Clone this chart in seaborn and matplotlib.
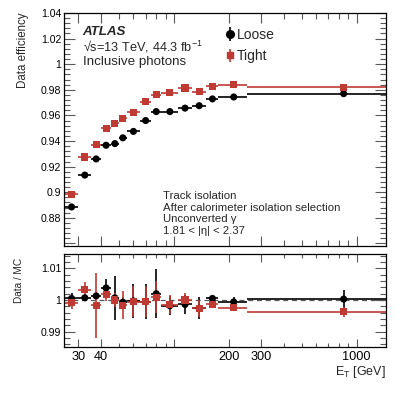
import numpy as np
import pandas as pd
import matplotlib
matplotlib.use("Agg")
import matplotlib.pyplot as plt
import seaborn as sns
from matplotlib.ticker import FixedLocator, FixedFormatter, MultipleLocator, FuncFormatter, NullFormatter

# ---------------- data ----------------
bin_lo = [25, 30, 35, 40, 45, 50, 55, 65, 75, 85, 105, 125, 150, 175, 250]
bin_hi = [30, 35, 40, 45, 50, 55, 65, 75, 85, 105, 125, 150, 175, 250, 1450]

eff_loose = [0.8885, 0.9134, 0.9260, 0.9367, 0.9380, 0.9425, 0.9475, 0.9560, 0.9630,
             0.9630, 0.9657, 0.9676, 0.9729, 0.9744, 0.9770]
eff_tight = [0.8985, 0.9275, 0.9370, 0.9498, 0.9540, 0.9577, 0.9624, 0.9707, 0.9763,
             0.9778, 0.9814, 0.9786, 0.9829, 0.9839, 0.9820]
eff_err_loose = [0.0008] * 15
eff_err_tight = [0.0008] * 15

ratio_loose = [1.0005, 1.0007, 1.0013, 1.0038, 1.0007, 0.9993, 0.9997, 0.9995, 1.0020,
               0.9982, 0.9986, 0.9974, 1.0005, 0.9994, 1.0003]
ratio_err_loose = [0.0016, 0.0008, 0.0010, 0.0027, 0.0070, 0.0015, 0.0053, 0.0055, 0.0077,
                   0.0030, 0.0030, 0.0035, 0.0005, 0.0015, 0.0030]
ratio_tight = [0.9991, 1.0032, 0.9983, 1.0018, 1.0000, 0.9984, 0.9995, 0.9995, 1.0009,
               0.9985, 1.0000, 0.9974, 0.9986, 0.9976, 0.9963]
ratio_err_tight = [0.0018, 0.0025, 0.0103, 0.0020, 0.0023, 0.0044, 0.0050, 0.0050, 0.0050,
                   0.0030, 0.0022, 0.0027, 0.0006, 0.0005, 0.0015]

x_tick_vals = [30, 40, 100, 200, 300, 1000]
x_tick_labels = ["30", "40", "", "200", "300", "1000"]
x_minor_vals = [50, 60, 70, 80, 90, 400, 500, 600, 700, 800, 900]

# ---------------- style ----------------
sns.set_style("ticks")
plt.rcParams["font.family"] = ["Liberation Sans", "DejaVu Sans"]
plt.rcParams["mathtext.fontset"] = "custom"
plt.rcParams["mathtext.rm"] = "Liberation Sans"
plt.rcParams["mathtext.it"] = "Liberation Sans:italic"
plt.rcParams["mathtext.bf"] = "Liberation Sans:bold"

BLACK = "#000000"
RED = "#bf3a33"

lo = np.array(bin_lo, float)
hi = np.array(bin_hi, float)
ctr = (lo + hi) / 2
xerr = np.vstack([ctr - lo, hi - ctr])

df = pd.DataFrame({
    "et": np.concatenate([ctr, ctr]),
    "eff": eff_loose + eff_tight,
    "ratio": ratio_loose + ratio_tight,
    "sel": ["Loose"] * 15 + ["Tight"] * 15,
})

fig = plt.figure(figsize=(4.07, 3.95), dpi=100)
W, H = 407, 395
ax1 = fig.add_axes([64 / W, 1 - 246 / H, 322 / W, 233 / H])
ax2 = fig.add_axes([64 / W, 1 - 347 / H, 322 / W, 93 / H])

pal = {"Loose": BLACK, "Tight": RED}
mk = {"Loose": "o", "Tight": "s"}

# top panel
ax1.errorbar(ctr, eff_loose, yerr=eff_err_loose, xerr=xerr, fmt="none", ecolor=BLACK, elinewidth=1.2, capsize=0)
ax1.errorbar(ctr, eff_tight, yerr=eff_err_tight, xerr=xerr, fmt="none", ecolor=RED, elinewidth=1.2, capsize=0)
sns.scatterplot(data=df, x="et", y="eff", hue="sel", style="sel", palette=pal, markers=mk,
                s=26, edgecolor="none", ax=ax1, legend=False, zorder=3)

# bottom panel
ax2.axhline(1.0, ls=(0, (4, 3)), color="0.35", lw=0.9, zorder=1)
ax2.errorbar(ctr, ratio_loose, yerr=ratio_err_loose, xerr=xerr, fmt="none", ecolor=BLACK, elinewidth=1.2, capsize=0)
ax2.errorbar(ctr, ratio_tight, yerr=ratio_err_tight, xerr=xerr, fmt="none", ecolor=RED, elinewidth=1.2, capsize=0)
sns.scatterplot(data=df, x="et", y="ratio", hue="sel", style="sel", palette=pal, markers=mk,
                s=26, edgecolor="none", ax=ax2, legend=False, zorder=3)

# legend proxies
h_l = ax1.errorbar([np.nan], [np.nan], yerr=[0.01], fmt="o", color=BLACK, ms=5.5, elinewidth=1.2)
h_t = ax1.errorbar([np.nan], [np.nan], yerr=[0.01], fmt="s", color=RED, ms=5, elinewidth=1.2)
leg = ax1.legend([h_l, h_t], ["Loose", "Tight"], loc="upper left", bbox_to_anchor=(0.499, 0.937),
                 frameon=False, fontsize=10, handlelength=0.75, handletextpad=0.15,
                 labelspacing=0.55, borderaxespad=0, borderpad=0)

def fmt_top(v, pos=None):
    if v < 0.87:
        return ""
    return f"{v:.2f}".rstrip("0").rstrip(".")

def fmt_num(v, pos=None):
    return f"{v:.2f}".rstrip("0").rstrip(".")

for ax in (ax1, ax2):
    ax.set_xscale("log")
    ax.set_xlim(25, 1450)
    ax.xaxis.set_major_locator(FixedLocator(x_tick_vals))
    ax.xaxis.set_minor_locator(FixedLocator(x_minor_vals))
    ax.xaxis.set_minor_formatter(NullFormatter())
    ax.tick_params(which="both", direction="in", top=True, right=True, width=0.8, colors="0.35",
                   labelcolor="black")
    for sp in ax.spines.values():
        sp.set_linewidth(0.9)
        sp.set_color("black")
    ax.set_xlabel("")
    ax.set_ylabel("")

ax1.xaxis.set_major_formatter(NullFormatter())
ax1.tick_params(axis="x", which="major", length=7)
ax1.tick_params(axis="x", which="minor", length=4)
ax1.tick_params(axis="y", which="major", length=8, labelsize=7.6, pad=2)
ax1.tick_params(axis="y", which="minor", length=4)
ax1.set_ylim(0.858, 1.04)
ax1.yaxis.set_major_locator(MultipleLocator(0.02))
ax1.yaxis.set_minor_locator(MultipleLocator(0.004))
ax1.yaxis.set_major_formatter(FuncFormatter(fmt_top))

ax2.xaxis.set_major_formatter(FixedFormatter(x_tick_labels))
ax2.tick_params(axis="x", which="major", length=6, labelsize=9.2, pad=3)
ax2.tick_params(axis="x", which="minor", length=3)
ax2.tick_params(axis="y", which="major", length=8, labelsize=7.6, pad=2)
ax2.tick_params(axis="y", which="minor", length=4)
ax2.set_ylim(0.9852, 1.0145)
ax2.yaxis.set_major_locator(MultipleLocator(0.01))
ax2.yaxis.set_minor_locator(MultipleLocator(0.002))
ax2.yaxis.set_major_formatter(FuncFormatter(fmt_num))

# axis labels
fig.text(23 / W, 1 - 13 / H, "Data efficiency", rotation=90, ha="center", va="top", fontsize=8.3)
fig.text(19 / W, 1 - 258 / H, "Data / MC", rotation=90, ha="center", va="top", fontsize=7.2)
fig.text(386 / W, 1 - 372 / H, r"E$_{\mathrm{T}}$ [GeV]", ha="right", va="center", fontsize=9.0)

# annotations
ax1.text(0.058, 0.917, "ATLAS", transform=ax1.transAxes, fontsize=9.6, fontweight="bold",
         fontstyle="italic", va="center", ha="left")
ax1.text(0.058, 0.855, "\u221As=13 TeV, 44.3 fb$^{-1}$", transform=ax1.transAxes, fontsize=9.2,
         va="center", ha="left")
ax1.text(0.058, 0.788, "Inclusive photons", transform=ax1.transAxes, fontsize=9.6, va="center", ha="left")

lines = ["Track isolation", "After calorimeter isolation selection", "Unconverted \u03b3",
         "1.81 < |\u03b7| < 2.37"]
ys = [0.216, 0.164, 0.114, 0.063]
for t, yy in zip(lines, ys):
    ax1.text(0.307, yy, t, transform=ax1.transAxes, fontsize=8.2, va="center", ha="left")

fig.savefig("out.png", dpi=100)
